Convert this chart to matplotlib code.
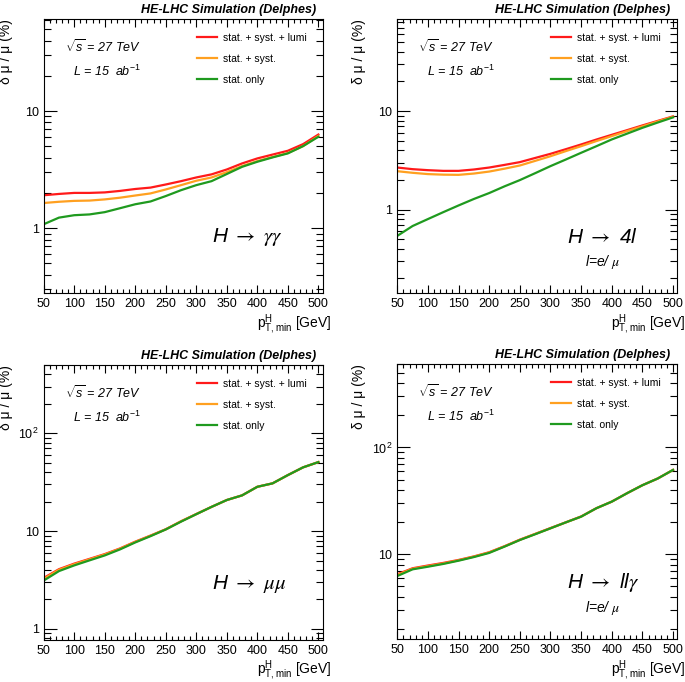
import numpy as np
import matplotlib.pyplot as plt
from matplotlib.ticker import FuncFormatter, LogLocator, NullFormatter, MultipleLocator

plt.rcParams['font.family'] = ['Liberation Sans', 'DejaVu Sans']
plt.rcParams['mathtext.fontset'] = 'custom'
plt.rcParams['mathtext.it'] = 'Liberation Sans:italic'
plt.rcParams['mathtext.rm'] = 'Liberation Sans'

# pT,min thresholds [GeV]
pt = [50, 75, 100, 125, 150, 175, 200, 225, 250, 275, 300, 325, 350, 375, 400, 425, 450, 475, 500]

# H -> gamma gamma
aa_lumi = [1.91, 1.96, 2.00, 2.00, 2.02, 2.08, 2.16, 2.22, 2.36, 2.52, 2.71, 2.88, 3.17, 3.57, 3.94, 4.25, 4.58, 5.22, 6.3]
aa_syst = [1.64, 1.68, 1.71, 1.72, 1.76, 1.82, 1.90, 1.98, 2.14, 2.33, 2.54, 2.71, 3.01, 3.39, 3.74, 4.05, 4.38, 5.02, 6.12]
aa_stat = [1.08, 1.23, 1.29, 1.31, 1.37, 1.48, 1.60, 1.69, 1.88, 2.11, 2.33, 2.52, 2.90, 3.34, 3.69, 4.02, 4.35, 5.02, 6.03]

# H -> 4l
zz_lumi = [2.67, 2.57, 2.51, 2.47, 2.47, 2.55, 2.67, 2.84, 3.03, 3.34, 3.68, 4.10, 4.58, 5.14, 5.74, 6.40, 7.15, 7.95, 8.83]
zz_syst = [2.45, 2.36, 2.29, 2.26, 2.25, 2.32, 2.43, 2.60, 2.80, 3.12, 3.48, 3.92, 4.40, 4.96, 5.57, 6.26, 7.00, 7.85, 8.75]
zz_stat = [0.54, 0.68, 0.80, 0.94, 1.10, 1.28, 1.47, 1.72, 1.99, 2.34, 2.76, 3.22, 3.77, 4.40, 5.15, 5.90, 6.76, 7.65, 8.63]

# H -> mu mu
mm_lumi = [3.32, 4.08, 4.65, 5.20, 5.82, 6.65, 7.80, 9.00, 10.45, 12.6, 14.95, 17.7, 20.8, 23.2, 28.4, 30.8, 37.4, 44.9, 50.8]
mm_syst = [3.25, 4.02, 4.58, 5.14, 5.76, 6.60, 7.75, 8.96, 10.42, 12.6, 14.93, 17.7, 20.8, 23.2, 28.4, 30.8, 37.4, 44.9, 50.8]
mm_stat = [3.12, 3.90, 4.46, 5.02, 5.64, 6.50, 7.66, 8.88, 10.40, 12.5, 14.9, 17.7, 20.8, 23.2, 28.4, 30.8, 37.4, 44.9, 50.8]

# H -> ll gamma
llg_lumi = [6.50, 7.40, 7.85, 8.30, 8.85, 9.55, 10.45, 11.9, 13.7, 15.5, 17.6, 19.9, 22.6, 27.0, 31.1, 37.3, 44.3, 51.2, 61.6]
llg_syst = [6.40, 7.32, 7.75, 8.20, 8.78, 9.50, 10.40, 11.85, 13.65, 15.5, 17.5, 19.9, 22.5, 27.0, 31.1, 37.3, 44.3, 51.2, 61.6]
llg_stat = [6.26, 7.23, 7.65, 8.12, 8.71, 9.42, 10.30, 11.8, 13.6, 15.4, 17.5, 19.9, 22.5, 27.0, 31.1, 37.3, 44.3, 51.2, 61.6]

labels = ['stat. + syst. + lumi', 'stat. + syst.', 'stat. only']
colors = ['#ff1a1a', '#ffa020', '#1f9a1f']

panels = [
    dict(pos=[0.0638, 0.570, 0.4072, 0.402], ylim=(0.278, 61), data=(aa_lumi, aa_syst, aa_stat),
         proc=r'H $\rightarrow\ \gamma\gamma$', sub=None),
    dict(pos=[0.580, 0.570, 0.4088, 0.402], ylim=(0.141, 86), data=(zz_lumi, zz_syst, zz_stat),
         proc=r'H $\rightarrow$ 4l', sub=r'l=e/ $\mu$'),
    dict(pos=[0.0638, 0.0616, 0.4072, 0.4032], ylim=(0.77, 500), data=(mm_lumi, mm_syst, mm_stat),
         proc=r'H $\rightarrow\ \mu\mu$', sub=None),
    dict(pos=[0.580, 0.0626, 0.4088, 0.4032], ylim=(1.6, 600), data=(llg_lumi, llg_syst, llg_stat),
         proc=r'H $\rightarrow$ ll$\gamma$', sub=r'l=e/ $\mu$'),
]


def decade_fmt(v, pos):
    e = int(round(np.log10(v)))
    if e == 0:
        return '1'
    if e == 1:
        return '10'
    return r'$10^{%d}$' % e


fig = plt.figure(figsize=(6.85, 6.82), dpi=100)

for p in panels:
    ax = fig.add_axes(p['pos'])
    for vals, lab, c in zip(p['data'], labels, colors):
        ax.plot(pt, vals, color=c, lw=1.6, label=lab)
    ax.set_yscale('log')
    ax.set_xlim(50, 507)
    ax.set_ylim(*p['ylim'])

    ax.xaxis.set_major_locator(MultipleLocator(50))
    ax.xaxis.set_minor_locator(MultipleLocator(10))
    ax.yaxis.set_major_locator(LogLocator(base=10, numticks=10))
    ax.yaxis.set_minor_locator(LogLocator(base=10, subs=np.arange(2, 10), numticks=10))
    ax.yaxis.set_major_formatter(FuncFormatter(decade_fmt))
    ax.yaxis.set_minor_formatter(NullFormatter())
    ax.tick_params(which='both', direction='in', top=True, right=True, labelsize=9, width=0.8)
    ax.tick_params(axis='x', which='major', length=6)
    ax.tick_params(axis='x', which='minor', length=3)
    ax.tick_params(axis='y', which='major', length=9)
    ax.tick_params(axis='y', which='minor', length=5)
    for s in ax.spines.values():
        s.set_linewidth(0.8)

    ax.set_ylabel('δ μ / μ (%)', loc='top', fontsize=10)
    ax.yaxis.set_label_coords(-0.11, 1.0)
    ax.set_xlabel(r'p$_{\mathrm{T,min}}^{\mathrm{H}}$ [GeV]', loc='right', fontsize=10)
    ax.xaxis.set_label_coords(1.03, -0.07)

    ax.text(0.975, 1.012, 'HE-LHC Simulation (Delphes)', transform=ax.transAxes,
            ha='right', va='bottom', fontsize=9, fontweight='bold', fontstyle='italic')
    ax.text(0.075, 0.9, r'$\sqrt{s}$ = 27 TeV', transform=ax.transAxes,
            ha='left', va='center', fontsize=9, fontstyle='italic')
    ax.text(0.105, 0.81, r'$L$ = 15  ab$^{-1}$', transform=ax.transAxes,
            ha='left', va='center', fontsize=9, fontstyle='italic')
    ax.text(0.605, 0.205, p['proc'], transform=ax.transAxes, math_fontfamily='stix',
            ha='left', va='center', fontsize=15, fontstyle='italic')
    if p['sub'] is not None:
        ax.text(0.67, 0.115, p['sub'], transform=ax.transAxes, math_fontfamily='stix',
                ha='left', va='center', fontsize=10, fontstyle='italic')

    ax.legend(loc='upper left', bbox_to_anchor=(0.535, 0.965), frameon=False, fontsize=7.5,
              handlelength=1.9, handletextpad=0.6, labelspacing=1.05, borderaxespad=0)

fig.savefig('out.png', dpi=100)
